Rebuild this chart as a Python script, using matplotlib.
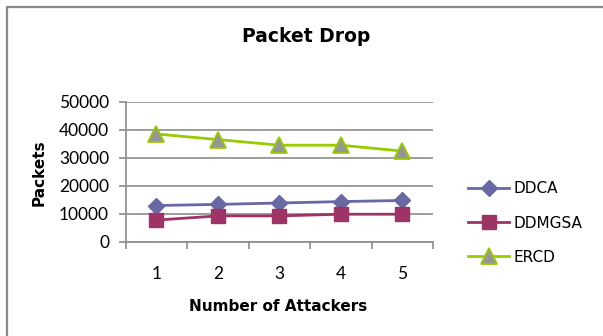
import matplotlib.pyplot as plt
from matplotlib.patches import Rectangle

plt.rcParams['font.family'] = ['Lato', 'DejaVu Sans']

# packets dropped vs number of attackers
attackers = ['1', '2', '3', '4', '5']
ddca = [13000, 13400, 13900, 14400, 14800]
ddmgsa = [7800, 9300, 9300, 9900, 9900]
ercd = [38500, 36500, 34500, 34500, 32400]
yticks = [0, 10000, 20000, 30000, 40000, 50000]

fig = plt.figure(figsize=(6.03, 3.36), dpi=100)

# outer chart frame (right/bottom edges run off the canvas)
fig.patches.append(Rectangle((6.5/603, -0.05), 1.2, 1 - 6.5/336 + 0.05,
                             transform=fig.transFigure, fill=False,
                             edgecolor='#8a8a8a', lw=1.6, zorder=0))

ax = fig.add_axes([125.7/603, 1 - 242/336, (433 - 125.7)/603, (242 - 101.7)/336])
x = list(range(1, len(attackers) + 1))

ax.plot(x, ddca, color='#6868A4', lw=2, marker='D', ms=8.5,
        mfc='#6868A4', mec='#6868A4', label='DDCA', zorder=3)
ax.plot(x, ddmgsa, color='#9E3366', lw=2, marker='s', ms=10,
        mfc='#9E3366', mec='#9E3366', label='DDMGSA', zorder=3)
ax.plot(x, ercd, color='#99CC00', lw=2, marker='^', ms=12,
        mfc='#969696', mec='#99CC00', mew=1.3, label='ERCD', zorder=3)

ax.set_xlim(0.5, len(attackers) + 0.5)
ax.set_ylim(0, 50000)
ax.set_yticks(yticks)
ax.set_yticklabels([str(v) for v in yticks], fontsize=12.5)
ax.grid(axis='y', color='#8c8c8c', lw=1.2)
ax.set_axisbelow(True)

# tick marks between categories, labels centred under them
ax.set_xticks([i + 0.5 for i in range(len(attackers) + 1)])
ax.set_xticklabels([])
ax.set_xticks(x, minor=True)
ax.set_xticklabels(attackers, minor=True, fontsize=12.5)
ax.tick_params(axis='x', which='major', length=5, width=1.2, color='#8c8c8c', direction='out')
ax.tick_params(axis='x', which='minor', length=0, pad=17)
ax.tick_params(axis='y', length=5, width=1.2, color='#8c8c8c', pad=7)

for s in ['top', 'right']:
    ax.spines[s].set_visible(False)
for s in ['left', 'bottom']:
    ax.spines[s].set_color('#8c8c8c')
    ax.spines[s].set_linewidth(1.2)

bold = ['DejaVu Sans']
fig.text(306/603, 1 - 42.3/336, 'Packet Drop', ha='center', va='baseline',
         fontsize=13.5, fontweight='bold', family=bold)
fig.text(278.5/603, 1 - 311/336, 'Number of Attackers', ha='center', va='baseline',
         fontsize=11, fontweight='bold', family=bold)
fig.text(39/603, 1 - 173/336, 'Packets', ha='center', va='center',
         rotation=90, fontsize=11, fontweight='bold', family=bold)

fig.legend(loc='center left', bbox_to_anchor=(462/603, 1 - 223/336),
           frameon=False, prop={'family': 'DejaVu Sans', 'size': 11},
           handlelength=2.7, handletextpad=0.3, labelspacing=1.25, borderaxespad=0)

fig.savefig('out.png', dpi=100)
